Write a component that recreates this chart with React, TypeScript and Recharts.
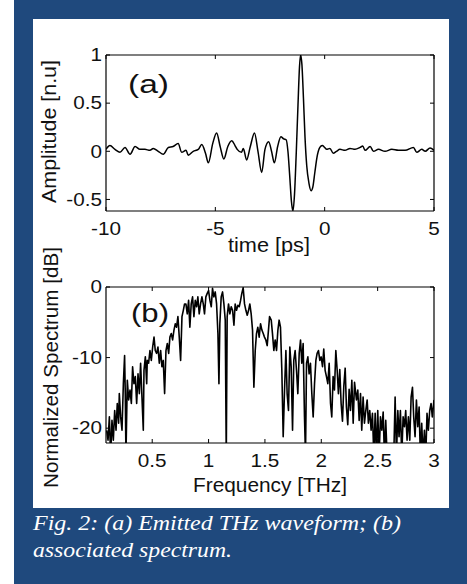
import React from 'react';
import { LineChart, Line, XAxis, YAxis } from 'recharts';

// ---------- (a) THz waveform ----------
const timePs = [
  -10.0, -9.82, -9.59, -9.36, -9.13, -8.9, -8.67, -8.45, -8.22, -7.99, -7.84, -7.61, -7.38, -7.15, -6.93,
  -6.7, -6.54, -6.34, -6.24, -6.01, -5.78, -5.62, -5.45, -5.32, -5.12, -4.94, -4.78, -4.61, -4.43, -4.25,
  -4.1, -4.0, -3.8, -3.72, -3.57, -3.4, -3.21, -3.05, -2.88, -2.73, -2.56, -2.43, -2.3, -2.15, -2.0,
  -1.88, -1.76, -1.68, -1.6, -1.52, -1.45, -1.38, -1.3, -1.22, -1.15, -1.1, -1.04, -0.97, -0.9, -0.82,
  -0.72, -0.62, -0.54, -0.45, -0.35, -0.22, -0.11, 0.0, 0.09, 0.24, 0.39, 0.54, 0.7, 0.93, 1.16,
  1.39, 1.62, 1.74, 1.85, 2.08, 2.23, 2.46, 2.76, 3.07, 3.37, 3.68, 4.06, 4.21, 4.44, 4.6,
  4.82, 5.0,
];
const amplitude = [
  0.02, 0.06, 0.02, -0.01, 0.04, -0.03, 0.05, 0.02, 0.02, 0.01, 0.03, 0.0, -0.03, 0.04, 0.05,
  0.08, -0.01, 0.01, -0.04, 0.0, 0.02, 0.07, -0.02, -0.12, 0.08, 0.19, 0.05, -0.08, 0.05, 0.11,
  0.06, 0.02, -0.01, 0.03, -0.09, 0.05, 0.19, 0.0, -0.22, 0.02, 0.1, 0.0, -0.12, 0.05, 0.15,
  0.13, 0.12, 0.0, -0.25, -0.52, -0.62, -0.45, -0.02, 0.48, 0.88, 1.0, 0.9, 0.55, 0.15, -0.15,
  -0.33, -0.41, -0.37, -0.22, -0.06, 0.04, 0.06, 0.04, 0.02, 0.03, -0.02, 0.0, 0.02, 0.01, 0.03,
  0.02, 0.04, 0.055, 0.01, 0.05, 0.0, 0.02, 0.0, 0.02, 0.01, 0.01, 0.04, -0.01, 0.02, 0.0,
  0.035, 0.01,
];

// ---------- (b) spectrum ----------
const freqTHz = [
  0.096, 0.108, 0.12, 0.131, 0.143, 0.155, 0.167, 0.179, 0.19, 0.202, 0.208, 0.22, 0.232, 0.244, 0.255,
  0.261, 0.267, 0.279, 0.291, 0.303, 0.315, 0.326, 0.338, 0.35, 0.362, 0.374, 0.386, 0.397, 0.409, 0.421,
  0.427, 0.439, 0.451, 0.456, 0.468, 0.48, 0.492, 0.504, 0.516, 0.527, 0.539, 0.551, 0.563, 0.575, 0.586,
  0.598, 0.61, 0.622, 0.634, 0.646, 0.657, 0.669, 0.681, 0.693, 0.705, 0.716, 0.728, 0.74, 0.752, 0.764,
  0.776, 0.787, 0.799, 0.811, 0.823, 0.834, 0.846, 0.858, 0.87, 0.882, 0.894, 0.905, 0.917, 0.929, 0.941,
  0.953, 0.964, 0.976, 0.988, 1.0, 1.012, 1.024, 1.035, 1.047, 1.059, 1.071, 1.083, 1.092, 1.1, 1.112,
  1.124, 1.136, 1.148, 1.157, 1.165, 1.177, 1.189, 1.201, 1.213, 1.225, 1.236, 1.248, 1.26, 1.272, 1.284,
  1.295, 1.307, 1.319, 1.331, 1.343, 1.355, 1.366, 1.378, 1.39, 1.402, 1.414, 1.425, 1.437, 1.449, 1.461,
  1.473, 1.485, 1.496, 1.508, 1.52, 1.532, 1.541, 1.556, 1.567, 1.579, 1.591, 1.603, 1.615, 1.626, 1.638,
  1.65, 1.662, 1.674, 1.686, 1.697, 1.709, 1.721, 1.733, 1.745, 1.756, 1.768, 1.78, 1.792, 1.804, 1.816,
  1.827, 1.839, 1.851, 1.86, 1.869, 1.881, 1.892, 1.904, 1.916, 1.928, 1.94, 1.952, 1.963, 1.975, 1.987,
  1.999, 2.011, 2.022, 2.034, 2.046, 2.058, 2.07, 2.082, 2.093, 2.105, 2.117, 2.129, 2.141, 2.152, 2.164,
  2.176, 2.188, 2.2, 2.212, 2.223, 2.235, 2.247, 2.259, 2.271, 2.283, 2.295, 2.312, 2.324, 2.336, 2.348,
  2.359, 2.371, 2.383, 2.395, 2.407, 2.418, 2.43, 2.442, 2.454, 2.466, 2.478, 2.489, 2.501, 2.513, 2.525,
  2.537, 2.549, 2.56, 2.572, 2.584, 2.608, 2.631, 2.643, 2.655, 2.667, 2.679, 2.69, 2.702, 2.714, 2.726,
  2.738, 2.749, 2.761, 2.773, 2.785, 2.797, 2.809, 2.82, 2.832, 2.844, 2.856, 2.868, 2.879, 2.891, 2.903,
  2.915, 2.927, 2.938, 2.95, 2.962, 2.974, 2.985, 3.0,
];
const spectrumDb = [
  -20.3, -21.7, -18.4, -24, -18.9, -21.7, -17.5, -20.3, -16.5, -19.3, -15.1, -18.4, -20.3, -13.7, -9.7,
  -15.1, -24, -13.2, -16.0, -14.6, -16.5, -11.3, -13.7, -12.7, -16.5, -12.3, -15.1, -10.8, -15.6, -20.3,
  -11.8, -9.9, -13.7, -10.4, -10.8, -9.0, -10.4, -8.5, -7.1, -9.0, -9.4, -8.5, -10.8, -9.0, -11.3,
  -10.4, -15.1, -9.0, -8.0, -9.4, -7.1, -6.6, -7.5, -6.1, -5.2, -5.7, -4.2, -7.1, -10.4, -4.2,
  -3.3, -2.4, -2.4, -3.8, -1.9, -5.7, -2.4, -1.4, -4.2, -1.9, -2.8, -1.4, -3.8, -2.4, -1.4,
  -2.4, -3.8, -1.4, -0.9, -0.5, -1.9, -2.8, -0.2, -1.4, -0.7, -2.4, -6.6, -13.7, -5.2, -1.4,
  -0.7, -2.4, -4.7, -24, -4.2, -2.4, -3.8, -2.8, -3.3, -5.4, -2.4, -3.3, -2.6, -2.8, -1.9,
  -0.9, -0.1, -2.4, -3.3, -4.0, -3.3, -2.4, -3.8, -6.1, -14.2, -9.0, -6.6, -5.7, -7.1, -5.2,
  -6.1, -6.6, -7.1, -7.5, -8.3, -6.0, -4.2, -4.7, -6.6, -9.0, -7.5, -9.0, -6.1, -4.7, -5.7,
  -11.8, -21.2, -14.6, -9.0, -15.1, -17.5, -8.5, -11.3, -20.3, -10.4, -9.0, -11.8, -15.1, -9.4, -7.5,
  -10.8, -8.0, -18.4, -24, -10.8, -9.9, -12.3, -10.8, -15.1, -18.4, -13.7, -10.4, -9.4, -9.0, -10.4,
  -9.9, -11.3, -8.8, -11.8, -12.7, -13.7, -10.8, -16.5, -18.4, -12.7, -14.6, -9.0, -11.8, -15.1, -11.7,
  -16.5, -19.0, -14.0, -11.5, -17.0, -19.5, -14.5, -17.5, -13.2, -19.3, -13.5, -16.0, -14.6, -18.9, -15.1,
  -20.3, -15.6, -19.3, -17.5, -16.0, -19.3, -17.5, -20.3, -17.9, -24, -17.9, -24, -17.5, -24, -18.4,
  -20.3, -17.7, -24, -18.9, -24, -24, -24, -24, -15.6, -24, -17.5, -21.2, -17.5, -24, -18.4,
  -19.8, -17.5, -21.7, -18.4, -21.7, -15.6, -14.2, -18.4, -21.2, -16.0, -19.8, -17.0, -24, -19.3, -24,
  -20.3, -24, -17.9, -20.3, -17.5, -16.5, -18.4, -16.0,
];

const timeTicks = [-10, -5, 0, 5];
const ampTicks = [-0.5, 0, 0.5, 1];
const freqTicks = [0.5, 1, 1.5, 2, 2.5, 3];
const dbTicks = [-20, -10, 0];

const waveData = timePs.map((t, i) => ({ t, a: amplitude[i] }));
const specData = freqTHz.map((f, i) => ({ f, s: spectrumDb[i] }));

const BLUE = '#1F497D';
const SANS = '"Liberation Sans", Arial, sans-serif';
const SERIF = '"Liberation Serif", "Times New Roman", serif';
const TL = 4;
const INK = '#111';

const BottomTick = (p: any) => (
  <g>
    <line x1={p.x} x2={p.x} y1={p.y} y2={p.y - TL} stroke="#000" strokeWidth={1} />
    <text
      transform={`translate(${p.x},${p.y + 24}) scale(1.15,1)`}
      textAnchor="middle"
      fontFamily={SANS}
      fontSize={18}
      fill={INK}
    >
      {String(p.payload.value)}
    </text>
  </g>
);
const TopTick = (p: any) => (
  <line x1={p.x} x2={p.x} y1={p.y} y2={p.y + TL} stroke="#000" strokeWidth={1} />
);
const LeftTick = (p: any) => (
  <g>
    <line x1={p.x} x2={p.x + TL} y1={p.y} y2={p.y} stroke="#000" strokeWidth={1} />
    <text
      transform={`translate(${p.x - 4},${p.y + 6.3}) scale(1.15,1)`}
      textAnchor="end"
      fontFamily={SANS}
      fontSize={18}
      fill={INK}
    >
      {String(p.payload.value)}
    </text>
  </g>
);
const RightTick = (p: any) => (
  <line x1={p.x} x2={p.x - TL} y1={p.y} y2={p.y} stroke="#000" strokeWidth={1} />
);

type PanelProps = {
  data: any[];
  xKey: string;
  yKey: string;
  xDomain: [number, number];
  yDomain: [number, number];
  xTicks: number[];
  yTicks: number[];
  plotTop: number;
  height: number;
  curve: 'linear' | 'monotone';
  lineWidth: number;
};

const PLOT_LEFT = 106;
const PLOT_RIGHT = 434;
const PLOT_H = 156;

function Panel({ data, xKey, yKey, xDomain, yDomain, xTicks, yTicks, plotTop, height, curve, lineWidth }: PanelProps) {
  const axisStroke = { stroke: '#000', strokeWidth: 1.2 };
  return (
    <LineChart
      width={467}
      height={height}
      data={data}
      margin={{
        top: plotTop - 2,
        left: PLOT_LEFT - 40,
        right: 467 - PLOT_RIGHT - 2,
        bottom: height - plotTop - PLOT_H - 30,
      }}
    >
      <XAxis
        xAxisId="b"
        dataKey={xKey}
        type="number"
        domain={xDomain}
        ticks={xTicks}
        interval={0}
        allowDataOverflow
        orientation="bottom"
        height={30}
        axisLine={axisStroke}
        tickLine={false}
        tickSize={0}
        tickMargin={0}
        tick={<BottomTick />}
      />
      <XAxis
        xAxisId="t"
        dataKey={xKey}
        type="number"
        domain={xDomain}
        ticks={xTicks}
        interval={0}
        allowDataOverflow
        orientation="top"
        height={2}
        axisLine={axisStroke}
        tickLine={false}
        tickSize={0}
        tickMargin={0}
        tick={<TopTick />}
      />
      <YAxis
        yAxisId="l"
        type="number"
        domain={yDomain}
        ticks={yTicks}
        interval={0}
        allowDataOverflow
        orientation="left"
        width={40}
        axisLine={axisStroke}
        tickLine={false}
        tickSize={0}
        tickMargin={0}
        tick={<LeftTick />}
      />
      <YAxis
        yAxisId="r"
        type="number"
        domain={yDomain}
        ticks={yTicks}
        interval={0}
        allowDataOverflow
        orientation="right"
        width={2}
        axisLine={axisStroke}
        tickLine={false}
        tickSize={0}
        tickMargin={0}
        tick={<RightTick />}
      />
      <Line
        xAxisId="b"
        yAxisId="l"
        type={curve}
        dataKey={yKey}
        stroke="#000"
        strokeWidth={lineWidth}
        strokeLinejoin="round"
        dot={false}
        activeDot={false}
        isAnimationActive={false}
      />
    </LineChart>
  );
}

export default function App() {
  return (
    <div
      style={{
        position: 'absolute',
        left: 0,
        top: 0,
        width: 467,
        height: 584,
        background: '#ffffff',
        overflow: 'hidden',
      }}
    >
      <div style={{ position: 'absolute', left: 14, top: 0, width: 453, height: 584, background: BLUE }} />
      <div style={{ position: 'absolute', left: 33, top: 19, width: 416, height: 489, background: '#ffffff' }} />
      <div style={{ position: 'absolute', left: 0, top: 0 }}>
        <Panel
          data={waveData}
          xKey="t"
          yKey="a"
          xDomain={[-10, 5]}
          yDomain={[-0.62, 1]}
          xTicks={timeTicks}
          yTicks={ampTicks}
          plotTop={55}
          height={250}
          curve="monotone"
          lineWidth={1.5}
        />
      </div>
      <div style={{ position: 'absolute', left: 0, top: 240 }}>
        <Panel
          data={specData}
          xKey="f"
          yKey="s"
          xDomain={[0.09, 3]}
          yDomain={[-22.1, 0]}
          xTicks={freqTicks}
          yTicks={dbTicks}
          plotTop={47}
          height={250}
          curve="linear"
          lineWidth={1.6}
        />
      </div>
      <svg
        width={467}
        height={584}
        style={{ position: 'absolute', left: 0, top: 0, pointerEvents: 'none' }}
      >
        <text x={128} y={93} fontFamily={SANS} fontSize={26} fill={INK} textLength={41} lengthAdjust="spacingAndGlyphs">
          (a)
        </text>
        <text x={131} y={321.5} fontFamily={SANS} fontSize={26} fill={INK} textLength={38} lengthAdjust="spacingAndGlyphs">
          (b)
        </text>
        <text x={269} y={252} textAnchor="middle" fontFamily={SANS} fontSize={20} fill={INK} textLength={82} lengthAdjust="spacingAndGlyphs">
          time [ps]
        </text>
        <text x={270} y={491.5} textAnchor="middle" fontFamily={SANS} fontSize={20} fill={INK} textLength={154} lengthAdjust="spacingAndGlyphs">
          Frequency [THz]
        </text>
        <text
          transform="translate(56,131.5) rotate(-90)"
          textAnchor="middle"
          fontFamily={SANS}
          fontSize={20.5}
          fill={INK}
          textLength={143}
          lengthAdjust="spacingAndGlyphs"
        >
          Amplitude [n.u]
        </text>
        <text
          transform="translate(58,367.5) rotate(-90)"
          textAnchor="middle"
          fontFamily={SANS}
          fontSize={20.5}
          fill={INK}
          textLength={241}
          lengthAdjust="spacingAndGlyphs"
        >
          Normalized Spectrum [dB]
        </text>
        <text x={33} y={529.5} fontFamily={SERIF} fontStyle="italic" fontSize={21.5} fill="#ffffff" textLength={368} lengthAdjust="spacingAndGlyphs">
          Fig. 2: (a) Emitted THz waveform; (b)
        </text>
        <text x={33} y={556.7} fontFamily={SERIF} fontStyle="italic" fontSize={21.5} fill="#ffffff" textLength={199} lengthAdjust="spacingAndGlyphs">
          associated spectrum.
        </text>
      </svg>
    </div>
  );
}
